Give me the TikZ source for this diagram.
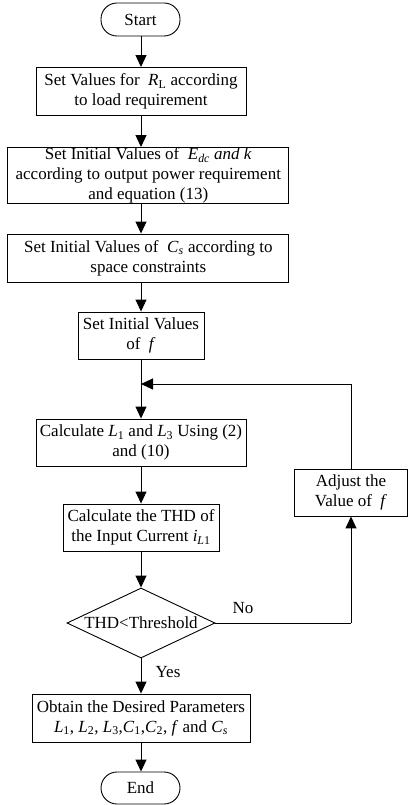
\documentclass[tikz,border=0pt]{standalone}
\usepackage{fontspec}
\setmainfont{Liberation Serif}
\usetikzlibrary{shapes.geometric,arrows.meta}
\newcommand{\vi}[1]{\textit{#1}}
\newcommand{\sub}[1]{\textsubscript{#1}}
\begin{document}
\begin{tikzpicture}[x=1pt,y=-1pt,
  every node/.style={font=\fontsize{17}{20}\selectfont},
  procbox/.style={draw,line width=0.9pt,inner sep=0pt,align=center},
  termbox/.style={draw,line width=0.9pt,inner sep=0pt,rounded corners=16pt,minimum width=79pt},
  decbox/.style={draw,line width=0.9pt,shape=diamond,aspect=2.11,inner sep=0pt,minimum width=148pt,minimum height=70pt},
  flow/.style={line width=1pt,-{Triangle[length=12pt,width=11pt]}},
  plain/.style={line width=1pt},
  lbl/.style={inner sep=0pt}]
\useasboundingbox (0,0) rectangle (408,805);
\node[termbox,minimum height=33pt] (start) at (140.5,19.5) {Start};
\node[procbox,minimum width=210pt,minimum height=48pt] (b1) at (141,91.5)
  {Set Values for \ \vi{R}\sub{L} according\\to load requirement};
\node[procbox,minimum width=281pt,minimum height=56pt] (b2) at (148.3,175.5)
  {Set Initial Values of \ \vi{E}\sub{\vi{dc}} \vi{and k}\\according to output power requirement\\and equation (13)};
\node[procbox,minimum width=281pt,minimum height=48pt] (b3) at (148.3,258)
  {Set Initial Values of \ \vi{C}\sub{\vi{s}} according to\\space constraints};
\node[procbox,minimum width=126pt,minimum height=47pt] (b4) at (141,335.5)
  {Set Initial Values\\of \ \vi{f}};
\node[procbox,minimum width=210pt,minimum height=47pt] (b5) at (141,442.5)
  {Calculate \vi{L}\sub{1} and \vi{L}\sub{3} Using (2)\\and (10)};
\node[procbox,minimum width=156pt,minimum height=47pt] (b6) at (141,527.5)
  {Calculate the THD of\\the Input Current \vi{i}\sub{\vi{L}1}};
\node[decbox] (dec) at (141,623) {THD\textless Threshold};
\node[procbox,minimum width=218pt,minimum height=48pt] (b7) at (141,718)
  {Obtain the Desired Parameters\\\vi{L}\sub{1}, \vi{L}\sub{2}, \vi{L}\sub{3},\vi{C}\sub{1},\vi{C}\sub{2}, \vi{f} and \vi{C}\sub{\vi{s}}};
\node[termbox,minimum height=32pt] (end) at (140.5,788) {End};
\node[procbox,minimum width=113pt,minimum height=47pt] (adj) at (351,492.5)
  {Adjust the\\Value of \ \vi{f}};
\coordinate (join) at (141,384);
\coordinate (loopTop) at (351,384);
\coordinate (loopBot) at (351,623);
\draw[flow] (start.south -| b1.north) -- (b1.north);
\draw[flow] (b1.south) -- (b1.south |- b2.north);
\draw[flow] (b1.south |- b2.south) -- (b1.south |- b3.north);
\draw[flow] (b1.south |- b3.south) -- (b4.north);
\draw[flow] (b4.south) -- (b5.north);
\draw[flow] (b5.south) -- (b6.north);
\draw[flow] (b6.south) -- (dec.north);
\draw[flow] (dec.south) -- (b7.north);
\draw[flow] (b7.south) -- (b7.south |- end.north);
\draw[plain] (dec.east) -- (loopBot);
\draw[flow] (loopBot) -- (adj.south);
\draw[plain] (adj.north) -- (loopTop);
\draw[flow] (loopTop) -- (join);
\node[lbl] (no) at (243,608) {No};
\node[lbl] (yes) at (168,672) {Yes};
\end{tikzpicture}
\end{document}
